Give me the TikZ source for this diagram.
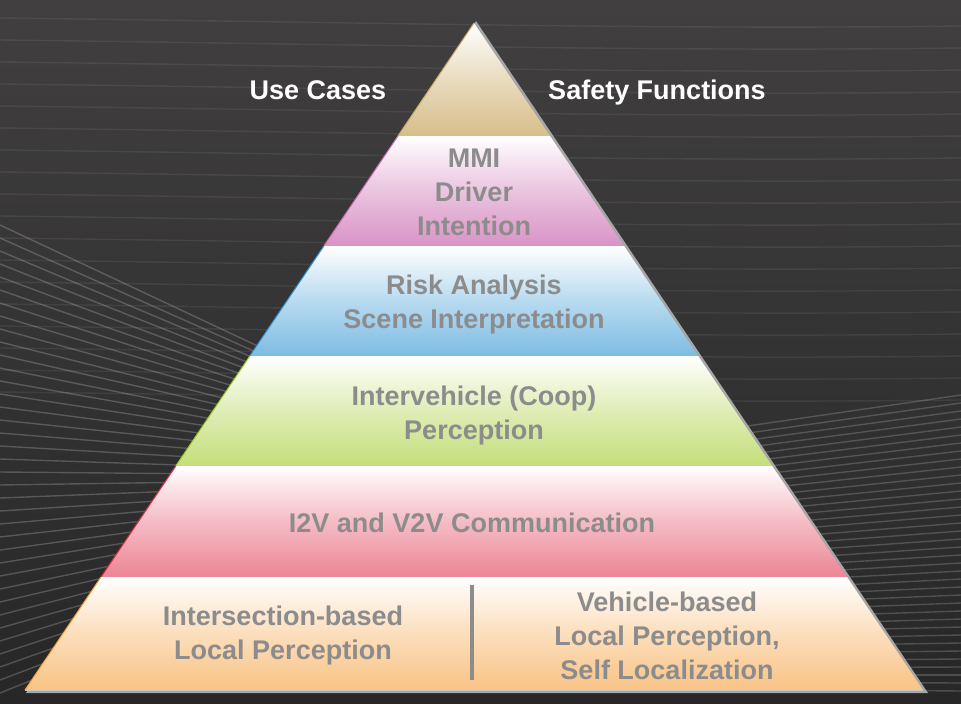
\documentclass[tikz,border=0pt]{standalone}
\usepackage{fontspec}
\setmainfont{Liberation Sans}
\definecolor{bgtop}{HTML}{413F3F}
\definecolor{bgbot}{HTML}{272727}
\definecolor{tiergray}{HTML}{8C8C8C}
\definecolor{tanc}{HTML}{D7BE8A}
\definecolor{mmic}{HTML}{D993C6}
\definecolor{riskc}{HTML}{7DBCE3}
\definecolor{coopc}{HTML}{C5DE7A}
\definecolor{commc}{HTML}{EC8595}
\definecolor{basec}{HTML}{F9C385}
\definecolor{tanedge}{HTML}{C9A860}
\definecolor{mmiedge}{HTML}{D06AB4}
\definecolor{riskedge}{HTML}{2996DC}
\definecolor{coopedge}{HTML}{9CCB1E}
\definecolor{commedge}{HTML}{E5243F}
\definecolor{baseedge}{HTML}{F5A030}
\tikzset{
  tierfill/.style={shading=axis,top color=white,bottom color=#1,middle color=white!45!#1},
  tiertext/.style={text=tiergray,align=center,font=\fontsize{27}{34}\selectfont\bfseries},
  headtext/.style={text=white,anchor=base,font=\fontsize{27}{32}\selectfont\bfseries},
  streak/.style={white,line width=1.4pt,opacity=#1}
}
\begin{document}
\begin{tikzpicture}[x=1pt,y=-1pt]
\useasboundingbox (0,0) rectangle (961,704);
% background
\shade[top color=bgtop,bottom color=bgbot] (0,0) rectangle (961,704);
\foreach \k in {0,...,17}
  \draw[streak=0.07] (0,{18+22*\k}) .. controls (350,{22+22*\k}) and (650,{30+22*\k}) .. (961,{26+22*\k});
\foreach \i in {0,...,36}
  \draw[streak=0.2] (0,{225+13*\i}) -- (330,{380+5*\i});
\foreach \j in {0,...,37}
  \draw[streak=0.18] (961,{395+8*\j}) -- (720,{430+7*\j});
% shadow of the pyramid
\fill[gray!70] (476,21) -- (928,693) -- (26,693) -- cycle;
% tiers
\foreach \ya/\yb/\col/\edge in {23/136/tanc/tanedge,136/246/mmic/mmiedge,246/356/riskc/riskedge,356/466/coopc/coopedge,466/577/commc/commedge,577/690/basec/baseedge}{
  \pgfmathsetmacro\xa{474-0.6732*(\ya-23)}
  \pgfmathsetmacro\xb{474-0.6732*(\yb-23)}
  \shade[tierfill=\col] (\xa,\ya) -- ({948-\xa},\ya) -- ({948-\xb},\yb) -- (\xb,\yb) -- cycle;
  \draw[\edge,line width=1pt] (\xa,\ya) -- (\xb,\yb);
  \draw[gray!45,line width=0.8pt] (\xb,\yb) -- ({948-\xb},\yb);
}
\draw[tiergray,line width=4pt] (472,585) -- (472,680);
% labels
\node[headtext] (usecases) at (318,99) {Use Cases};
\node[headtext] (safety) at (657,99) {Safety Functions};
\node[tiertext] (mmi) at (474,192) {MMI\\Driver\\Intention};
\node[tiertext] (risk) at (474,305) {Risk Analysis\\Scene Interpretation};
\node[tiertext] (coop) at (474,416) {Intervehicle (Coop)\\Perception};
\node[tiertext] (comm) at (472,523) {I2V and V2V Communication};
\node[tiertext] (inter) at (283,636) {Intersection-based\\Local Perception};
\node[tiertext] (vehicle) at (667,636) {Vehicle-based\\Local Perception,\\Self Localization};
\end{tikzpicture}
\end{document}
